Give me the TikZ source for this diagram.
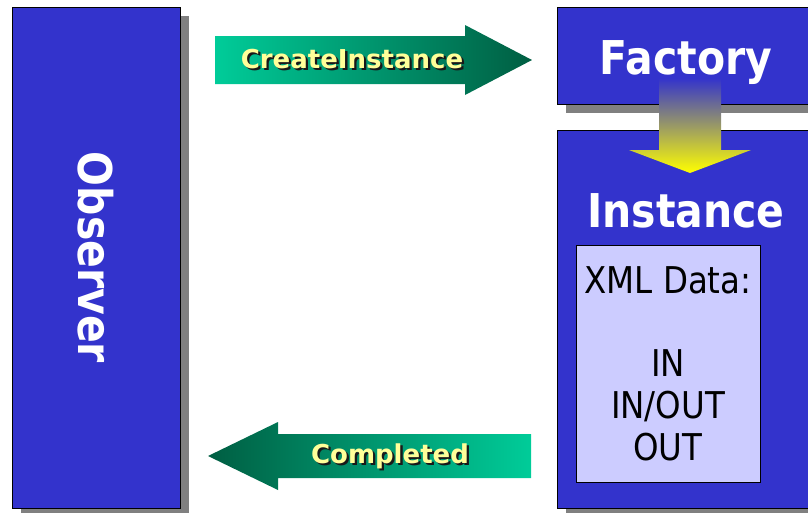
\documentclass[tikz,border=0pt]{standalone}
\usepackage{fontspec}
\setmainfont{DejaVu Sans}
\newfontfamily\narrowfont[FakeStretch=0.88]{DejaVu Sans}
\usetikzlibrary{shadows}
\definecolor{boxblue}{HTML}{3333CC}
\definecolor{datafill}{HTML}{CCCCFF}
\definecolor{tealhi}{HTML}{00CC99}
\definecolor{tealdark}{HTML}{005E42}
\definecolor{labelyellow}{HTML}{FFFF99}
\definecolor{shadowgray}{HTML}{808080}
\newcommand{\titlefont}{\narrowfont\fontsize{26.5}{30}\selectfont\bfseries}
\newcommand{\dropped}[1]{\rlap{\kern1.3pt\raisebox{-1.3pt}{\color{black!90}#1}}#1}
\begin{document}
\begin{tikzpicture}
    \tikzset{block/.style={draw=black, line width=0.5pt, fill=boxblue, text=white, inner sep=0pt,
        drop shadow={shadow xshift=0.18cm, shadow yshift=-0.18cm, fill=shadowgray, opacity=1}}}
    \tikzset{title/.style={text=white, font=\titlefont, inner sep=0pt}}
    \tikzset{flow/.style={text=labelyellow, font=\fontsize{14.8}{17}\selectfont\bfseries, inner sep=0pt}}
    \tikzset{datatext/.style={font=\narrowfont\fontsize{21}{23.8}\selectfont, align=center, inner sep=0pt}}
    \useasboundingbox (0,0) rectangle (16.16,-10.24);
    \clip (0,0) rectangle (16.16,-10.24);
    % the three blue blocks
    \node[block, font=\titlefont, minimum width=3.36cm, minimum height=10.02cm] (observer) at (1.92,-5.15) {\rotatebox{-90}{Observer}};
    \node[block, minimum width=5.16cm, minimum height=1.94cm, anchor=north west] (factory) at (11.14,-0.14) {};
    \node[block, minimum width=5.16cm, minimum height=7.56cm, anchor=north west] (instance) at (11.14,-2.60) {};
    \node[title, anchor=base] (factorylabel) at (13.72,-1.48) {Factory};
    \node[title, anchor=base] (instancelabel) at (13.72,-4.54) {Instance};
    % data panel
    \node[draw=black, line width=0.4pt, fill=datafill, minimum width=3.68cm, minimum height=4.74cm, anchor=north west] (xmldata) at (11.52,-4.90) {};
    \node[datatext, anchor=north] (xmltext) at (13.36,-5.32) {XML Data:\\[23.8pt] IN\\ IN/OUT\\ OUT};
    % factory produces instance
    \shade[top color=boxblue, bottom color=yellow] (13.18,-1.56) -- (14.42,-1.56) -- (14.42,-3.00) -- (15.02,-3.00) -- (13.80,-3.46) -- (12.58,-3.00) -- (13.18,-3.00) -- cycle;
    % calls between observer and instance
    \shade[left color=tealhi, right color=tealdark] (4.30,-0.72) -- (9.30,-0.72) -- (9.30,-0.50) -- (10.64,-1.20) -- (9.30,-1.90) -- (9.30,-1.68) -- (4.30,-1.68) -- cycle;
    \shade[left color=tealdark, right color=tealhi] (10.62,-8.68) -- (5.56,-8.68) -- (5.56,-8.44) -- (4.16,-9.12) -- (5.56,-9.80) -- (5.56,-9.56) -- (10.62,-9.56) -- cycle;
    \node[flow, anchor=base] (createlabel) at (7.04,-1.36) {\dropped{CreateInstance}};
    \node[flow, anchor=base] (donelabel) at (7.80,-9.26) {\dropped{Completed}};
\end{tikzpicture}
\end{document}
